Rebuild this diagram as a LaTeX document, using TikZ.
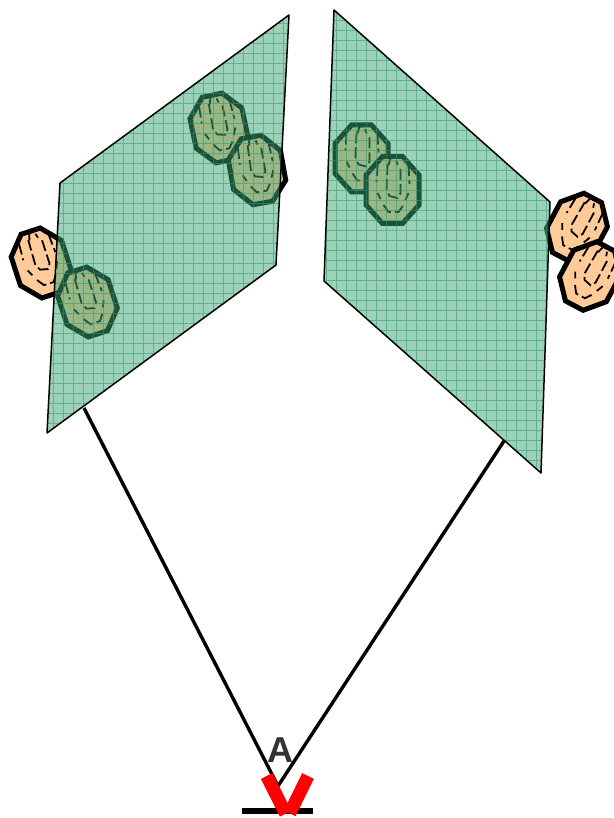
\documentclass[tikz,border=0pt]{standalone}
\usepackage{fontspec}
\setmainfont{Liberation Sans}
\definecolor{planeG}{RGB}{55,165,115}
\definecolor{gridG}{RGB}{50,150,110}
\definecolor{fruitO}{RGB}{255,204,153}
\tikzset{
  plane/.style={fill=planeG,fill opacity=.5,draw=none},
  planeedge/.style={draw=black,line width=1.5pt,line join=round},
  fruitbody/.style={fill=fruitO,draw=black,line width=5pt,line join=miter},
  fruitdash/.style={draw=black,line width=1.8pt,dash pattern=on 11pt off 4pt},
  sight/.style={draw=black,line width=3.4pt},
  planegrid/.style={draw=gridG,draw opacity=.55,line width=.8pt},
}
% #1 x, #2 y, #3 rotation
\newcommand{\fruit}[3]{%
  \begin{scope}[shift={(#1,#2)},rotate=#3]
    \draw[fruitbody] (-10,-33.5)--(10,-33.5)--(26.5,-15)--(26.5,15)--(10,33.5)--(-10,33.5)--(-26.5,15)--(-26.5,-15)--cycle;
    \draw[fruitdash] (-15,-25)--(-16,-8);
    \draw[fruitdash] (16,-25)--(17,-6);
    \draw[fruitdash] (-15,3)--(-12,9);
    \draw[fruitdash] (16,3)--(13,10);
    \draw[fruitdash] (-5,-26)--(-6,0)--(-3,6)--(5,8)--(8,3)--(8,-24);
    \draw[fruitdash] (-4,-25)--(-2,-32)--(3,-32)--(5,-25);
    \draw[fruitdash] (-9,15)--(-4,22)--(6,22)--(11,15);
  \end{scope}}
\begin{document}
\begin{tikzpicture}[x=1pt,y=-1pt]
\useasboundingbox (0,0) rectangle (613,818);
\coordinate (L1) at (60,183);
\coordinate (L2) at (289,15);
\coordinate (L3) at (276,265);
\coordinate (L4) at (47,433);
\coordinate (R1) at (334,10);
\coordinate (R2) at (550,202);
\coordinate (R3) at (541,473);
\coordinate (R4) at (324,281);
\coordinate (A) at (278,786);
\coordinate (LS) at (84,408);
\coordinate (RS) at (504,441);
\draw[sight,line join=miter] (LS)--(A)--(RS);
\draw[draw=black,line width=6pt] (242,810.5)--(313,810.5);
\fruit{41}{263}{18}
\fruit{87.5}{302}{18}
\fruit{219}{128}{12}
\fruit{257}{170}{10}
\fruit{361.5}{158.5}{0}
\fruit{392.5}{190}{0}
\fruit{577}{227.5}{-28}
\fruit{590}{276}{-28}
\fill[plane] (L1)--(L2)--(L3)--(L4)--cycle;
\fill[plane] (R1)--(R2)--(R3)--(R4)--cycle;
\begin{scope}
\clip (L1)--(L2)--(L3)--(L4)--cycle;
\draw[planegrid,shift={(3,3)}] (40,10) grid[step=10pt] (300,440);
\end{scope}
\begin{scope}
\clip (R1)--(R2)--(R3)--(R4)--cycle;
\draw[planegrid,shift={(6,0)}] (320,0) grid[step=10pt] (560,480);
\end{scope}
\draw[planeedge] (L1)--(L2)--(L3)--(L4)--cycle;
\draw[planeedge] (R1)--(R2)--(R3)--(R4)--cycle;
\node[font=\fontsize{36}{36}\selectfont\bfseries,inner sep=0pt,text=black!80] (lblA) at (280,750.5) {A};
\draw[red,line width=13pt] (266.7,776)--(285.7,813.7);
\draw[red,line width=13pt] (308,776)--(289.7,813.3);
\end{tikzpicture}
\end{document}
